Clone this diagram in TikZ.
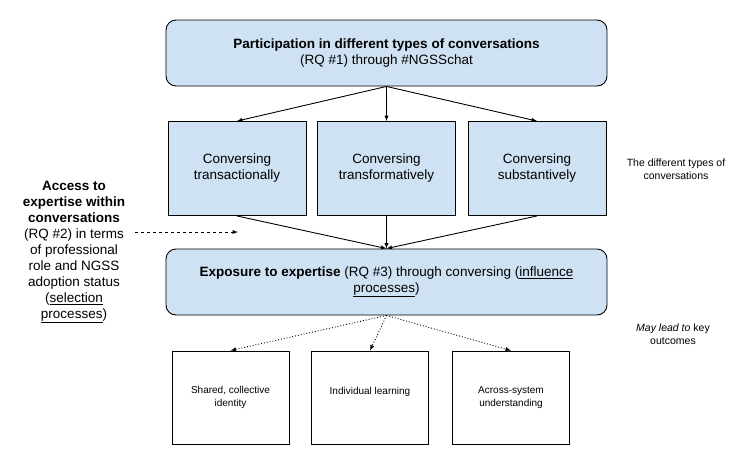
\documentclass[tikz,border=0pt]{standalone}
\usepackage{fontspec}
\setmainfont{Liberation Sans}
\usepackage{xcolor}
\usepackage{tikz}
\usetikzlibrary{arrows,shapes}
\usetikzlibrary{calc}
\definecolor{boxblue}{HTML}{CFE2F3}

\begin{document}
\begin{tikzpicture}[x=1pt, y=-1pt, >=latex,
   bluebox/.style={draw, fill=boxblue, line width=0.9pt, align=center, inner sep=0pt, font=\fontsize{13.5}{16}\selectfont},
   outbox/.style={draw, fill=white, line width=0.9pt, align=center, inner sep=0pt, minimum width=117pt, minimum height=93pt, font=\fontsize{10}{12.5}\selectfont},
   note/.style={align=center, inner sep=0pt, font=\fontsize{10.5}{13}\selectfont},
   link/.style={->, line width=0.9pt},
   dotlink/.style={->, line width=0.9pt, dotted}]

 \useasboundingbox (0,0) rectangle (756,451);

 %level 1
 \node[bluebox, rounded corners=10pt, minimum width=441pt, minimum height=66pt] (P) at (386.5,53)
   {\textbf{Participation in different types of conversations}\\(RQ \#1) through \#NGSSchat};

 %level 2
 \foreach \x/\name/\la/\lb in { 237/C1/Conversing/transactionally, 386.5/C2/Conversing/transformatively, 537/C3/Conversing/substantively } {
         \node[bluebox, minimum width=138pt, minimum height=94pt] (\name) at (\x,168.5) {\la\\\lb};
 }

 %level 3
 \node[bluebox, rounded corners=10pt, minimum width=441pt, minimum height=66pt] (E) at (386.5,282)
   {\textbf{Exposure to expertise} (RQ \#3) through conversing (\underline{influence}\\\underline{processes})};

 %arrows
 \foreach \name in {C1, C2, C3} {
         \draw[link] (P.south) -- (\name.north);
         \draw[link] (\name.south) -- (E.north);
 }

 %level 4
 \foreach \x/\name/\la/\lb in { 230.5/O1/{Shared, collective}/identity, 370/O2/Individual learning/{}, 511/O3/Across-system/understanding } {
         \node[outbox] (\name) at (\x,397.5) {\la\\\lb};
 }
 \foreach \name in {O1, O2, O3} {
         \draw[dotlink] (E.south) -- (\name.north);
 }

 %left side
 \node[align=center, inner sep=0pt, font=\fontsize{13.5}{16}\selectfont] (A) at (74,252)
   {\textbf{Access to}\\\textbf{expertise within}\\\textbf{conversations}\\(RQ \#2) in terms\\of professional\\role and NGSS\\adoption status\\(\underline{selection}\\\underline{processes})};
 \coordinate (Astart) at (135,232);
 \coordinate (Aend) at (238,232);
 \draw[->, line width=0.9pt, dashed] (Astart) -- (Aend);

 %notes
 \node[note] (N1) at (676,169.5) {The different types of\\conversations};
 \node[note] (N2) at (673,334) {\textit{May lead to} key\\outcomes};
\end{tikzpicture}
\end{document}
